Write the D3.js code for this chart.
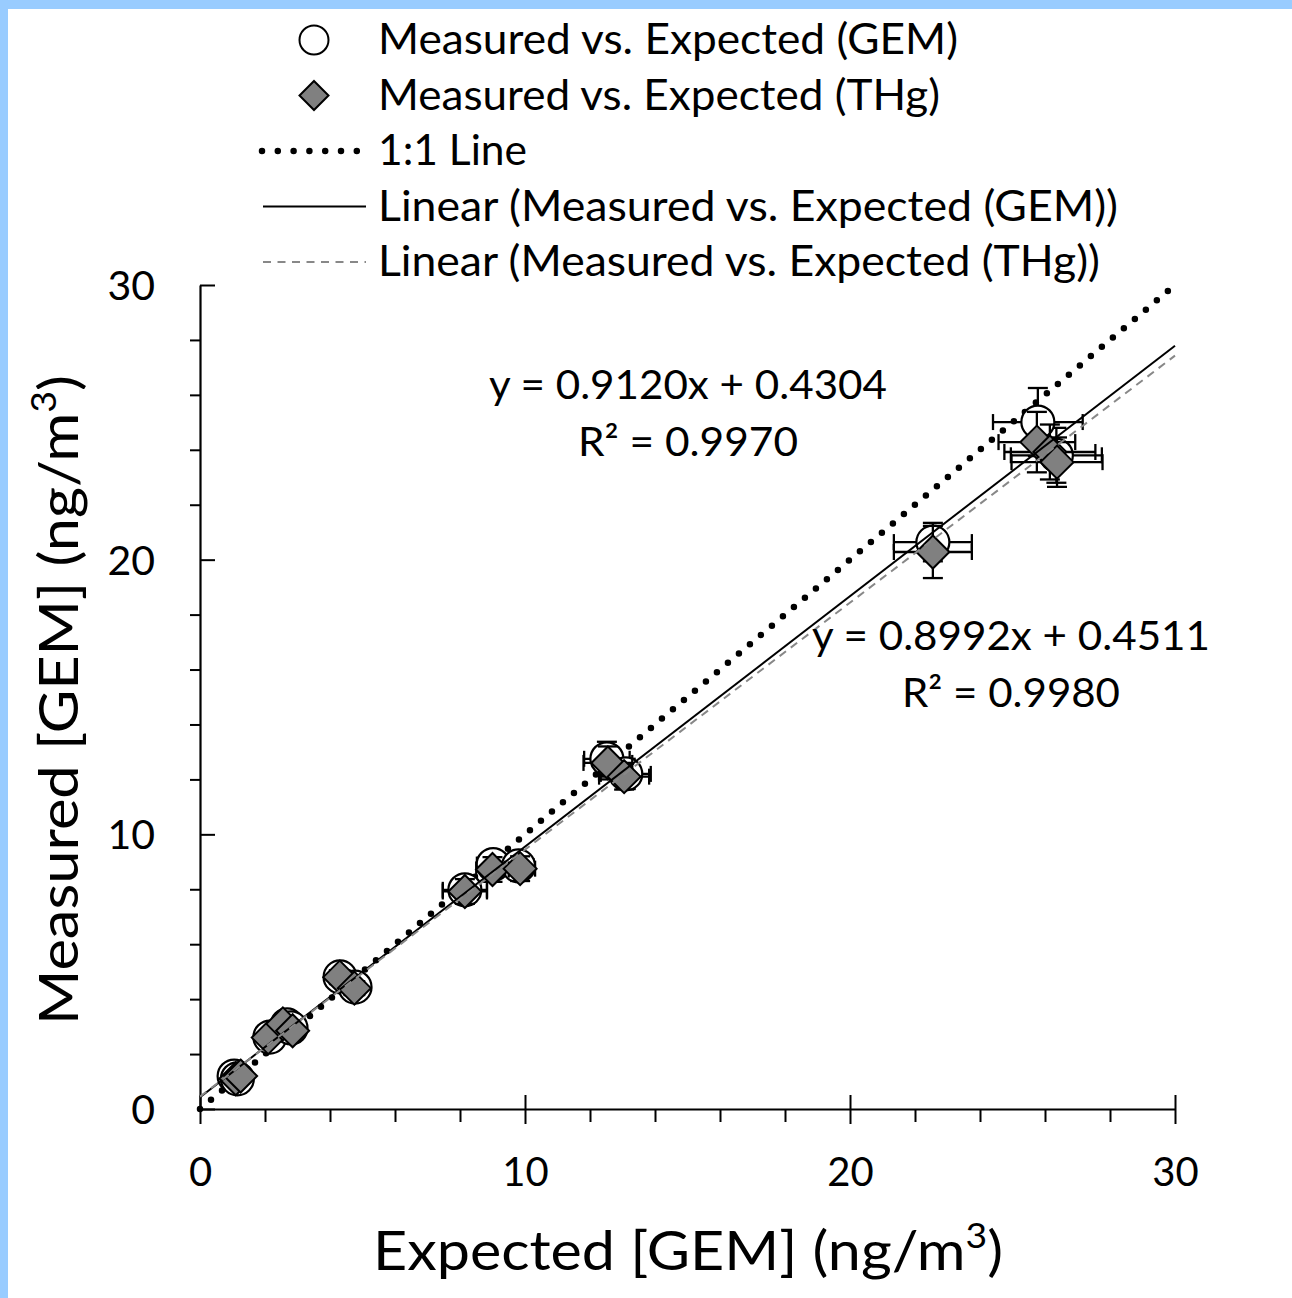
<!DOCTYPE html>
<html>
<head>
<meta charset="utf-8">
<script src="https://cdn.jsdelivr.net/npm/d3@7"></script>
<style>
  html, body { margin: 0; padding: 0; background: #fff; }
  svg { display: block; }
  text { font-family: Lato, "Open Sans", "Noto Sans", sans-serif; fill: #000; }
</style>
</head>
<body>
<svg id="chart" width="1292" height="1298"></svg>
<script>
// ---------------- DATA ----------------
const gemExpected = [1.05, 1.15, 2.15, 2.68, 2.80, 4.31, 4.77, 8.15, 9.02, 9.80, 12.52, 13.10, 22.55, 25.78, 26.35];
const gemMeasured = [1.20, 1.10, 2.62, 3.06, 2.95, 4.81, 4.44, 7.98, 8.90, 8.85, 12.75, 12.20, 20.64, 25.01, 23.80];
const gemXErr     = [0.08, 0.08, 0.15, 0.18, 0.18, 0.30, 0.30, 0.68, 0.50, 0.46, 0.70, 0.77, 1.20, 1.38, 1.40];
const gemYErr     = [0.06, 0.06, 0.15, 0.15, 0.15, 0.25, 0.25, 0.40, 0.45, 0.45, 0.62, 0.55, 0.70, 1.24, 1.00];

const thgExpected = [1.10, 1.25, 2.10, 2.55, 2.85, 4.30, 4.75, 8.15, 9.00, 9.85, 12.55, 13.05, 22.55, 25.75, 26.15, 26.37];
const thgMeasured = [1.10, 1.20, 2.60, 3.10, 2.85, 4.80, 4.40, 7.92, 8.72, 8.75, 12.60, 12.10, 20.28, 24.28, 23.92, 23.55];
const thgXErr     = [0.08, 0.08, 0.15, 0.15, 0.18, 0.30, 0.30, 0.68, 0.50, 0.46, 0.75, 0.77, 1.20, 1.18, 1.40, 1.40];
const thgYErr     = [0.06, 0.06, 0.15, 0.15, 0.15, 0.25, 0.25, 0.45, 0.45, 0.45, 0.60, 0.47, 0.95, 1.10, 1.00, 0.90];

const trendNames      = ["GEM", "THg"];
const trendSlopes     = [0.9120, 0.8992];
const trendIntercepts = [0.4304, 0.4511];
const trendR2         = [0.9970, 0.9980];

const oneToOneX = [0, 30];
const majorTicks = [0, 10, 20, 30];
const minorTicks = [2, 4, 6, 8, 12, 14, 16, 18, 22, 24, 26, 28];

const legendLabels = [
  "Measured vs. Expected (GEM)",
  "Measured vs. Expected (THg)",
  "1:1 Line",
  "Linear (Measured vs. Expected (GEM))",
  "Linear (Measured vs. Expected (THg))"
];
const xTitle = "Expected [GEM] (ng/m";
const yTitle = "Measured [GEM] (ng/m";

// ---------------- CHART ----------------
const svg = d3.select("#chart");
const blue = "#99ccff";
svg.append("rect").attr("x", 0).attr("y", 0).attr("width", 1292).attr("height", 9).attr("fill", blue);
svg.append("rect").attr("x", 0).attr("y", 0).attr("width", 8).attr("height", 1298).attr("fill", blue);

const x = d3.scaleLinear().domain([0, 30]).range([200, 1175]);
const y = d3.scaleLinear().domain([0, 30]).range([1109, 285]);

function fitText(sel, w) {
  sel.attr("textLength", w).attr("lengthAdjust", "spacingAndGlyphs");
}

// Minor ticks
const gxm = svg.append("g").attr("transform", `translate(0,${y(0)})`)
  .call(d3.axisBottom(x).tickValues(minorTicks).tickSize(13).tickSizeOuter(0).tickFormat(""));
gxm.select(".domain").remove();
gxm.selectAll("line").attr("stroke", "#000").attr("stroke-width", 2);

const gym = svg.append("g").attr("transform", `translate(${x(0)},0)`)
  .call(d3.axisLeft(y).tickValues(minorTicks).tickSize(10).tickSizeOuter(0).tickFormat(""));
gym.select(".domain").remove();
gym.selectAll("line").attr("stroke", "#000").attr("stroke-width", 2);

// Major axes
const gx = svg.append("g").attr("transform", `translate(0,${y(0)})`)
  .call(d3.axisBottom(x).tickValues(majorTicks).tickSize(15).tickSizeOuter(0).tickFormat(d3.format("d")));
gx.selectAll("line").attr("stroke", "#000").attr("stroke-width", 2).attr("y1", -14);
gx.select(".domain").attr("stroke", "#000").attr("stroke-width", 2.2);
gx.selectAll(".tick text").attr("y", 77).attr("dy", 0)
  .style("font-size", "40px").style("font-family", "Lato, 'Open Sans', sans-serif").attr("fill", "#000");

const gy = svg.append("g").attr("transform", `translate(${x(0)},0)`)
  .call(d3.axisLeft(y).tickValues(majorTicks).tickSize(17).tickSizeOuter(0).tickFormat(d3.format("d")));
gy.selectAll("line").attr("stroke", "#000").attr("stroke-width", 2).attr("x2", 15);
gy.select(".domain").attr("stroke", "#000").attr("stroke-width", 2.2);
gy.selectAll(".tick text").attr("x", -45).attr("dy", "0.35em")
  .style("font-size", "41px").style("font-family", "Lato, 'Open Sans', sans-serif").attr("fill", "#000");

// 1:1 dotted line (behind markers)
const line = d3.line().x(d => x(d[0])).y(d => y(d[1]));
svg.append("path")
  .attr("d", line(oneToOneX.map(v => [v, v])))
  .attr("fill", "none").attr("stroke", "#000").attr("stroke-width", 6.5)
  .attr("stroke-linecap", "round").attr("stroke-dasharray", "0 14.4");

const capH = 8;
function errorBars(xs, ys, xe, ye) {
  const g = svg.append("g").attr("stroke", "#000").attr("stroke-width", 2.3).attr("fill", "none");
  xs.forEach((xv, i) => {
    const yv = ys[i];
    const x0 = x(xv - xe[i]), x1 = x(xv + xe[i]), yc = y(yv);
    const y0 = y(yv - ye[i]), y1 = y(yv + ye[i]), xc = x(xv);
    g.append("line").attr("x1", x0).attr("x2", x1).attr("y1", yc).attr("y2", yc);
    g.append("line").attr("x1", x0).attr("x2", x0).attr("y1", yc - capH).attr("y2", yc + capH);
    g.append("line").attr("x1", x1).attr("x2", x1).attr("y1", yc - capH).attr("y2", yc + capH);
    g.append("line").attr("x1", xc).attr("x2", xc).attr("y1", y0).attr("y2", y1);
    g.append("line").attr("x1", xc - capH - 2).attr("x2", xc + capH + 2).attr("y1", y0).attr("y2", y0);
    g.append("line").attr("x1", xc - capH - 2).attr("x2", xc + capH + 2).attr("y1", y1).attr("y2", y1);
  });
}

// GEM series
errorBars(gemExpected, gemMeasured, gemXErr, gemYErr);
svg.append("g").selectAll("circle").data(gemExpected).join("circle")
  .attr("cx", d => x(d)).attr("cy", (d, i) => y(gemMeasured[i])).attr("r", 16.5)
  .attr("fill", "#fff").attr("stroke", "#000").attr("stroke-width", 2.2);

// THg series
const diamond = s => `M0,${-s}L${s},0L0,${s}L${-s},0Z`;
errorBars(thgExpected, thgMeasured, thgXErr, thgYErr);
svg.append("g").selectAll("path").data(thgExpected).join("path")
  .attr("d", diamond(16.5))
  .attr("transform", (d, i) => `translate(${x(d)},${y(thgMeasured[i])})`)
  .attr("fill", "#808080").attr("stroke", "#000").attr("stroke-width", 2);

// Trendlines
const trendStyles = [
  { stroke: "#000", dash: null, width: 2 },
  { stroke: "#888", dash: "8 6", width: 2 }
];
trendSlopes.forEach((m, k) => {
  const b = trendIntercepts[k];
  svg.append("path")
    .attr("d", line([0, 30].map(v => [v, m * v + b])))
    .attr("fill", "none").attr("stroke", trendStyles[k].stroke)
    .attr("stroke-width", trendStyles[k].width)
    .attr("stroke-dasharray", trendStyles[k].dash);
});

// Equations
const eqPos = [{ cx: 688, by: 399 }, { cx: 1011, by: 650 }];
const eqW = [398, 398], r2W = [220, 218];
trendSlopes.forEach((m, k) => {
  const t1 = svg.append("text").attr("x", eqPos[k].cx).attr("y", eqPos[k].by)
    .attr("text-anchor", "middle").style("font-size", "40px")
    .text(`y = ${m.toFixed(4)}x + ${trendIntercepts[k].toFixed(4)}`);
  fitText(t1, eqW[k]);
  const t2 = svg.append("text").attr("x", eqPos[k].cx).attr("y", eqPos[k].by + 57)
    .attr("text-anchor", "middle").style("font-size", "40px")
    .text(`R² = ${trendR2[k].toFixed(4)}`);
  fitText(t2, r2W[k]);
});

// Legend
const legY = [54, 109.5, 165, 220.5, 276];
const legW = [580, 562, 149, 740, 722];
const lg = svg.append("g");
lg.append("circle").attr("cx", 314).attr("cy", legY[0] - 14).attr("r", 14.5)
  .attr("fill", "#fff").attr("stroke", "#000").attr("stroke-width", 2);
lg.append("path").attr("d", diamond(14.5)).attr("transform", `translate(314,${legY[1] - 14})`)
  .attr("fill", "#808080").attr("stroke", "#000").attr("stroke-width", 2);
lg.append("line").attr("x1", 262).attr("x2", 357).attr("y1", legY[2] - 14).attr("y2", legY[2] - 14)
  .attr("stroke", "#000").attr("stroke-width", 6.5).attr("stroke-linecap", "round").attr("stroke-dasharray", "0 15.8");
lg.append("line").attr("x1", 263).attr("x2", 366).attr("y1", legY[3] - 14).attr("y2", legY[3] - 14)
  .attr("stroke", "#000").attr("stroke-width", 2);
lg.append("line").attr("x1", 263).attr("x2", 366).attr("y1", legY[4] - 14).attr("y2", legY[4] - 14)
  .attr("stroke", "#888").attr("stroke-width", 2).attr("stroke-dasharray", "8 6.5");
legendLabels.forEach((s, i) => {
  const t = lg.append("text").attr("x", 378).attr("y", legY[i]).style("font-size", "42px").text(s);
  fitText(t, legW[i]);
});

// Axis titles
const xt = svg.append("text").attr("x", 373).attr("y", 1270).style("font-size", "54px");
xt.append("tspan").text(xTitle);
xt.append("tspan").attr("dy", -22).style("font-size", "34px").text("3");
xt.append("tspan").attr("dy", 22).text(")");
fitText(xt, 630);

const yt = svg.append("text").attr("transform", "translate(78,1025) rotate(-90)").style("font-size", "54px");
yt.append("tspan").text(yTitle);
yt.append("tspan").attr("dy", -22).style("font-size", "34px").text("3");
yt.append("tspan").attr("dy", 22).text(")");
fitText(yt, 650);
</script>
</body>
</html>
